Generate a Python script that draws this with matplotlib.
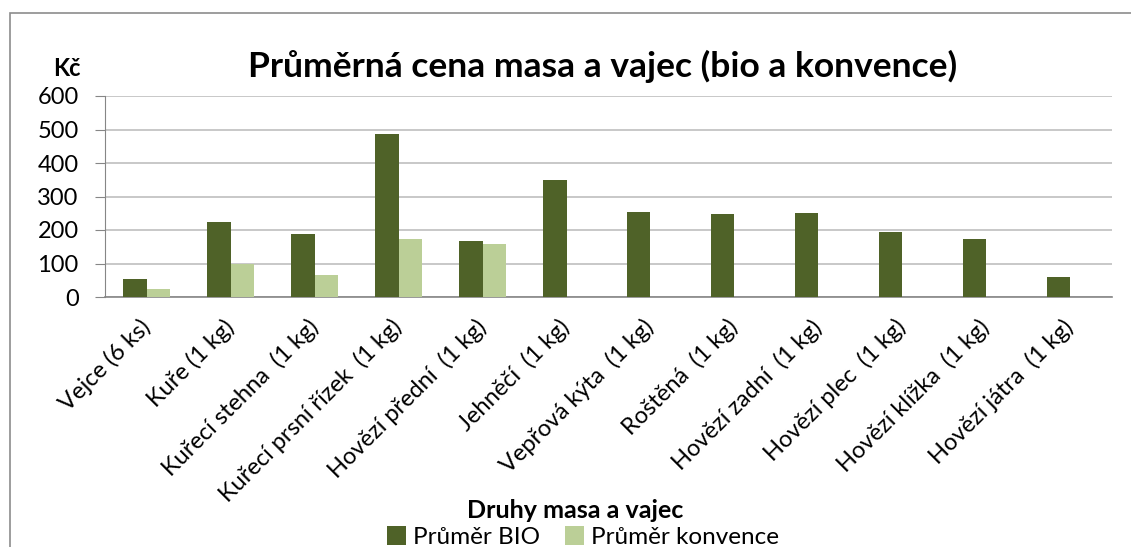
import numpy as np
from matplotlib import pyplot as plt
from matplotlib.patches import Rectangle

plt.rcParams['font.family'] = ['Lato', 'DejaVu Sans']

categories = ['Vejce (6 ks)', 'Kuře (1 kg)', 'Kuřecí stehna  (1 kg)',
              'Kuřecí prsní řízek  (1 kg)', 'Hovězí přední  (1 kg)',
              'Jehněčí  (1 kg)', 'Vepřová kýta  (1 kg)', 'Roštěná  (1 kg)',
              'Hovězí zadní  (1 kg)', 'Hovězí plec  (1 kg)',
              'Hovězí klížka  (1 kg)', 'Hovězí játra  (1 kg)']
bio = [54, 223, 187, 487, 167, 350, 253, 248, 250, 194, 172, 61]
konvence = [24, 100, 67, 173, 158, 0, 0, 0, 0, 0, 0, 0]
yticks = [0, 100, 200, 300, 400, 500, 600]

W, H = 1131, 547
fig = plt.figure(figsize=(W / 100, H / 100), dpi=100)

# outer chart frame (right and bottom edges fall outside the picture)
fig.patches.append(Rectangle((10 / W, -0.1), 1.2, 1.1 - 13 / H,
                             transform=fig.transFigure, fill=False,
                             edgecolor='#8c8c8c', linewidth=1.2))

ax = fig.add_axes([105 / W, (H - 297) / H, (1112 - 105) / W, 201 / H])

x = np.arange(len(categories))
bw = 0.28
ax.bar(x - bw / 2, bio, bw, color='#4F6228', label='Průměr BIO', zorder=3)
ax.bar(x + bw / 2, konvence, bw, color='#BBCF97', label='Průměr konvence', zorder=3)

ax.set_xlim(-0.5, len(categories) - 0.5)
ax.set_ylim(0, 600)
ax.set_yticks(yticks)
ax.yaxis.grid(True, color='#bfbfbf', linewidth=1.2, zorder=0)
for s in ['top', 'right']:
    ax.spines[s].set_visible(False)
ax.spines['left'].set_color('#868686')
ax.spines['bottom'].set_color('#868686')
ax.spines['bottom'].set_linewidth(1.2)
ax.tick_params(axis='y', length=7, color='#868686', labelsize=17, pad=12)
ax.tick_params(axis='x', length=0, labelsize=17, pad=19)
ax.set_xticks(x)
ax.set_xticklabels(categories, rotation=45, ha='right', va='center',
                   rotation_mode='anchor')

fig.text(603 / W, 1 - 66 / H, 'Průměrná cena masa a vajec (bio a konvence)',
         ha='center', va='center', fontsize=25.5, fontweight='bold')
fig.text(67 / W, 1 - 68 / H, 'Kč', ha='center', va='center',
         fontsize=17, fontweight='bold')
fig.text(575 / W, 1 - 510 / H, 'Druhy masa a vajec', ha='center', va='center',
         fontsize=18, fontweight='bold')

fig.legend(loc='center', bbox_to_anchor=(583 / W, 1 - 537 / H), ncol=2,
           frameon=False, fontsize=17.5, handlelength=0.8, handleheight=0.8,
           handletextpad=0.3, columnspacing=1.0, borderpad=0)

fig.savefig('out.png', dpi=100)
